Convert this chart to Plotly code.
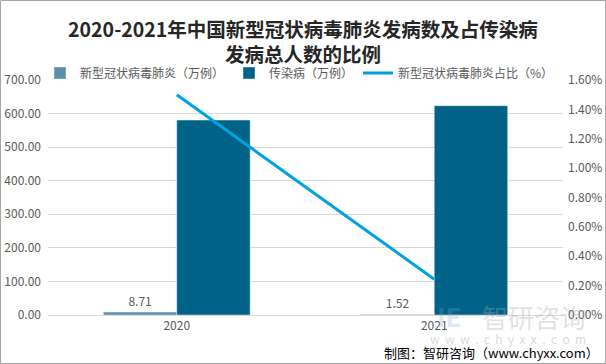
import plotly.graph_objects as go

years = ["2020", "2021"]
covid_cases = [8.71, 1.52]          # 新型冠状病毒肺炎（万例）
infectious_cases = [580.67, 623.35]  # 传染病（万例）
covid_share = [1.50, 0.244]          # 新型冠状病毒肺炎占比（%）

FONT = "Noto Sans CJK SC"
GRAY = "#595959"

fig = go.Figure()
fig.add_trace(go.Bar(
    x=years, y=covid_cases, name="新型冠状病毒肺炎（万例）",
    marker_color="#5a8fa6", text=[f"{v:.2f}" for v in covid_cases],
    textposition="outside", textfont=dict(color=GRAY, size=12, family=FONT),
    cliponaxis=False,
))
fig.add_trace(go.Bar(
    x=years, y=infectious_cases, name="传染病（万例）",
    marker_color="#006287",
))
fig.add_trace(go.Scatter(
    x=years, y=covid_share, name="新型冠状病毒肺炎占比（%）", yaxis="y2",
    mode="lines", line=dict(color="#00a3e0", width=3),
))

W, H = 606, 364
L, R, T, B = 48, 43, 80, 49
PW, PH = W - L - R, H - T - B

fig.update_layout(
    width=W, height=H,
    margin=dict(l=L, r=R, t=T, b=B, autoexpand=False),
    paper_bgcolor="white", plot_bgcolor="white",
    font=dict(family=FONT, color=GRAY, size=12),
    barmode="group", bargap=0.43, bargroupgap=0,
    title=dict(
        text="<b>2020-2021年中国新型冠状病毒肺炎发病数及占传染病<br>发病总人数的比例</b>",
        x=0.5, xanchor="center", y=1 - 37 / H, yanchor="middle",
        font=dict(family=FONT, size=19.5, color="#262626"),
    ),
    showlegend=True,
    legend=dict(
        orientation="h", xref="container", yref="container",
        x=40 / W, xanchor="left", y=1 - 73 / H, yanchor="middle",
        font=dict(family=FONT, size=12, color=GRAY),
        bgcolor="rgba(0,0,0,0)", itemwidth=30, traceorder="normal",
        tracegroupgap=0,
    ),
    xaxis=dict(
        showgrid=False, showline=True, linecolor="#d9d9d9", ticks="",
        tickfont=dict(size=12, color=GRAY),
    ),
    yaxis=dict(
        range=[0, 700], dtick=100, tickformat=".2f",
        showgrid=True, gridcolor="#d9d9d9", zeroline=False,
        tickfont=dict(size=12, color=GRAY), ticks="", showline=False,
        ticklabelstandoff=6,
    ),
    yaxis2=dict(
        range=[0, 1.6], dtick=0.2, tickformat=".2f", ticksuffix="%",
        overlaying="y", side="right", showgrid=False, zeroline=False,
        tickfont=dict(size=12, color=GRAY), ticks="", ticklabelstandoff=4,
    ),
    shapes=[dict(
        type="rect", xref="paper", yref="paper",
        x0=-L / PW + 0.5 / PW, x1=1 + (R - 0.5) / PW,
        y0=-B / PH + 0.5 / PH, y1=1 + (T - 0.5) / PH,
        line=dict(color="#a6a6a6", width=1), fillcolor="rgba(0,0,0,0)",
    )],
)

# watermark
fig.add_annotation(
    xref="paper", yref="paper", x=(588 - L) / PW, y=(H - 316 - B) / PH,
    text="智研咨询", showarrow=False, xanchor="right", yanchor="middle",
    font=dict(family=FONT, size=26, color="rgba(170,170,170,0.35)"),
)
fig.add_annotation(
    xref="paper", yref="paper", x=(449 - L) / PW, y=(H - 315 - B) / PH,
    text="<b>IE</b>", showarrow=False, xanchor="center", yanchor="middle",
    font=dict(family=FONT, size=26, color="rgba(120,170,215,0.25)"),
)
fig.add_annotation(
    xref="paper", yref="paper", x=(588 - L) / PW, y=(H - 338 - B) / PH,
    text="w  w  w  .  c  h  y  x  x  .  c  o  m", showarrow=False,
    xanchor="right", yanchor="middle",
    font=dict(family=FONT, size=12, color="rgba(170,170,170,0.45)"),
)
# footer
fig.add_annotation(
    xref="paper", yref="paper", x=(601 - L) / PW, y=(H - 352 - B) / PH,
    text="制图：智研咨询（www.chyxx.com）", showarrow=False,
    xanchor="right", yanchor="middle",
    font=dict(family=FONT, size=13, color="#000000"),
)

fig.write_html(
    "out.html",
    config={"displayModeBar": False},
    post_script="document.body.style.margin='0';document.body.style.overflow='hidden';",
)
